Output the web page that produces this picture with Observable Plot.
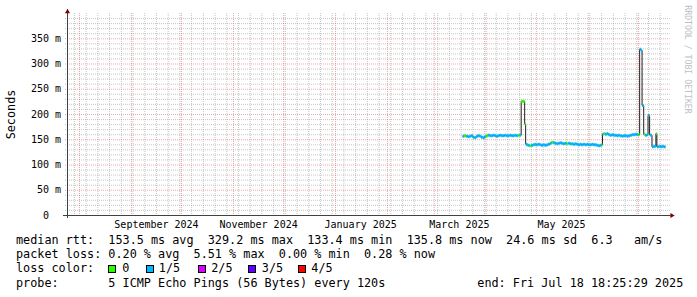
<!DOCTYPE html>
<html><head><meta charset="utf-8">
<script src="https://cdn.jsdelivr.net/npm/d3@7"></script>
<script src="https://cdn.jsdelivr.net/npm/@observablehq/plot@0.6"></script>
<style>
html,body{margin:0;padding:0;background:#fff;}
#wrap{position:relative;width:697px;height:297px;background:#fff;overflow:hidden;font-family:"DejaVu Sans Mono",monospace;color:#000;}
#chart{position:absolute;left:0;top:0;}
.ln{position:absolute;left:16px;font-size:11.8px;line-height:14px;white-space:pre;}
.box{position:absolute;width:8px;height:8px;box-sizing:border-box;border:1px solid #000;}
</style>
</head><body>
<div id="wrap"><div id="chart"></div></div>
<script>
// ---- data ----
const dates = [
"2025-03-18","2025-03-19","2025-03-20","2025-03-21","2025-03-22","2025-03-23","2025-03-24","2025-03-25",
"2025-03-26","2025-03-27","2025-03-28","2025-03-29","2025-03-30","2025-03-31","2025-04-01","2025-04-02",
"2025-04-03","2025-04-04","2025-04-05","2025-04-06","2025-04-07","2025-04-08","2025-04-09","2025-04-10",
"2025-04-11","2025-04-12","2025-04-13","2025-04-14","2025-04-15","2025-04-16","2025-04-17","2025-04-18",
"2025-04-19","2025-04-20","2025-04-21","2025-04-21T22:00","2025-04-24T00:00","2025-04-24T14:00",
"2025-04-25","2025-04-26","2025-04-27","2025-04-28","2025-04-29","2025-04-30","2025-05-01","2025-05-02",
"2025-05-03","2025-05-04","2025-05-05","2025-05-06","2025-05-07","2025-05-08","2025-05-09","2025-05-10",
"2025-05-11","2025-05-12","2025-05-13","2025-05-14","2025-05-15","2025-05-16","2025-05-17","2025-05-18",
"2025-05-19","2025-05-20","2025-05-21","2025-05-22","2025-05-23","2025-05-24","2025-05-25","2025-05-26",
"2025-05-27","2025-05-28","2025-05-29","2025-05-30","2025-05-31","2025-06-01","2025-06-02","2025-06-03",
"2025-06-04","2025-06-05","2025-06-06","2025-06-07","2025-06-08","2025-06-09","2025-06-09T12:00",
"2025-06-10","2025-06-11","2025-06-12","2025-06-13","2025-06-14","2025-06-15","2025-06-16","2025-06-17",
"2025-06-18","2025-06-19","2025-06-20","2025-06-21","2025-06-22","2025-06-23","2025-06-24","2025-06-25",
"2025-06-26","2025-06-27","2025-06-28","2025-06-29","2025-06-30","2025-07-01","2025-07-01T17:00",
"2025-07-02T12:00","2025-07-03T04:00","2025-07-04T03:00","2025-07-05","2025-07-06","2025-07-06T17:00",
"2025-07-07T16:00","2025-07-08","2025-07-09T02:00","2025-07-10","2025-07-11T10:00","2025-07-12",
"2025-07-13","2025-07-14","2025-07-15","2025-07-16","2025-07-17T02:00"
];
const medianMs = [
157,158,157,156,157,158,155,154,
157,158,157,155,154,156,158,159,
158,158,159,158,157,158,159,158,
158,159,158,158,159,158,158,159,
158,159,159,226,181,142,
140,139,138,139,140,141,140,141,
140,139,140,139,140,141,143,145,
144,143,142,143,144,143,142,143,
142,143,142,142,141,142,141,140,
141,140,141,140,141,140,140,141,
140,140,139,138,139,140,161,
162,161,162,160,159,160,159,159,
158,159,158,157,158,158,157,158,
159,160,160,161,160,160,329,
327,218,161,159,160,198,
160,159,136,137,162,136,
137,136,137,136,136
];
// packet-loss bucket of each sample: 0 = none, 1 = 1/5
const lossIdx = [
1,0,1,1,1,1,1,1,
1,1,1,1,1,1,0,1,
1,1,1,1,1,1,1,1,
1,1,1,1,1,1,1,1,
1,0,1,0,0,1,
1,1,0,1,1,1,1,1,
1,1,1,1,1,1,1,0,
1,1,1,1,1,1,1,1,
0,1,1,1,1,1,1,1,
1,1,1,1,1,1,1,1,
1,1,1,1,1,0,1,
0,1,1,1,1,1,1,1,
1,1,1,1,1,1,1,1,
1,1,1,1,1,0,1,
1,1,0,1,1,1,
1,1,1,1,0,1,
1,1,1,1,1
];
const lossLabels = ["0","1/5","2/5","3/5","4/5"];
const lossColors = ["#26ff00","#00b8ff","#dd00ff","#5e00ff","#ff0000"];

const yTicks = [0,50,100,150,200,250,300,350];
const yTickLabels = ["0\u00a0\u00a0","50 m","100 m","150 m","200 m","250 m","300 m","350 m"];
const xLabels = ["September 2024","November 2024","January 2025","March 2025","May 2025"];
const xLabelDates = ["2024-09-16","2024-11-16","2025-01-16","2025-03-16","2025-05-16"];

const statLines = [
"median rtt:  153.5 ms avg  329.2 ms max  133.4 ms min  135.8 ms now  24.6 ms sd  6.3   am/s",
"packet loss: 0.20 % avg  5.51 % max  0.00 % min  0.28 % now"
];
const probeText = "probe:       5 ICMP Echo Pings (56 Bytes) every 120s";
const endText = "end: Fri Jul 18 18:25:29 2025";

// ---- chart ----
const x0 = new Date("2024-07-24T20:00Z"), x1 = new Date("2025-07-18T18:25Z");
const toUTC = s => new Date(s.length === 10 ? s + "T00:00Z" : s + "Z");
const rows = dates.map((d, i) => ({
  t: toUTC(d), v: medianMs[i], c: lossColors[lossIdx[i]],
  t2: i + 1 < dates.length ? toUTC(dates[i + 1]) : toUTC(d)
}));
const minorY = d3.range(10, 400, 10).filter(v => v % 50 !== 0);
const majorY = yTicks.filter(v => v > 0);
const weeks = d3.utcMonday.range(x0, x1);
const months = d3.utcMonth.range(x0, x1);

const arrow = {draw(ctx){ctx.moveTo(0,-2.5);ctx.lineTo(2.6,1.8);ctx.lineTo(-2.6,1.8);ctx.closePath();}};
const gridGray = {stroke:"#909090", strokeOpacity:0.5, strokeDasharray:"1,1"};
const gridRed = {stroke:"#e05050", strokeOpacity:0.5, strokeDasharray:"1,1"};

const svg = Plot.plot({
  width: 697, height: 232,
  marginLeft: 67, marginRight: 29.3, marginTop: 13, marginBottom: 17,
  style: {fontFamily: "DejaVu Sans Mono", fontSize: "10px", background: "#fff", overflow: "visible", color: "#000"},
  x: {type: "utc", domain: [x0, x1], axis: null},
  y: {domain: [0, 400], axis: null},
  color: {type: "identity"},
  marks: [
    Plot.ruleY(minorY, {...gridGray, insetLeft: -2, insetRight: -2}),
    Plot.ruleX(weeks, {...gridGray, insetBottom: -2}),
    Plot.ruleY(majorY, {...gridRed, insetLeft: -2, insetRight: -2}),
    Plot.ruleX(months, {...gridRed, insetBottom: -2}),
    Plot.ruleY([0], {stroke: "#404040", insetLeft: -4, insetRight: -3}),
    Plot.ruleX([x0], {stroke: "#404040", insetTop: -4, insetBottom: -3}),
    Plot.dot([{x: x0, y: 400}], {x: "x", y: "y", symbol: arrow, r: 3, fill: "#800000", stroke: "none", dy: -2}),
    Plot.dot([{x: x1, y: 0}], {x: "x", y: "y", symbol: arrow, r: 3, fill: "#800000", stroke: "none", rotate: 90, dx: 4}),
    Plot.line(rows, {x: "t", y: "v", curve: "step-after", stroke: "#202020", strokeWidth: 1}),
    Plot.link(rows.slice(0, -1), {x1: "t", x2: "t2", y1: "v", y2: "v", stroke: "c", strokeWidth: 3}),
    Plot.text(yTicks, {y: d => d, text: (d, i) => yTickLabels[i], frameAnchor: "left", textAnchor: "end", lineAnchor: "middle", dx: -6.5, fontSize: 10, fill: "#000"}),
    Plot.text(xLabelDates, {x: d => toUTC(d), text: (d, i) => xLabels[i], frameAnchor: "bottom", textAnchor: "middle", lineAnchor: "middle", dy: 9.5, fontSize: 10, fill: "#000"}),
    Plot.text(["Seconds"], {frameAnchor: "left", textAnchor: "middle", lineAnchor: "middle", rotate: -90, dx: -56, fontSize: 11.8, fill: "#000"}),
    Plot.text(["RRDTOOL / TOBI OETIKER"], {frameAnchor: "top-right", textAnchor: "middle", lineAnchor: "middle", rotate: 90, dx: 19.5, dy: 46, fontSize: 8.2, fill: "#c0c0c0"})
  ]
});
document.getElementById("chart").appendChild(svg);

// ---- text block below the chart ----
const wrap = document.getElementById("wrap");
function addLine(text, top, left) {
  const d = document.createElement("div");
  d.className = "ln"; d.textContent = text; d.style.top = top + "px";
  if (left != null) d.style.left = left + "px";
  wrap.appendChild(d);
}
addLine(statLines[0], 233.4);
addLine(statLines[1], 247.4);
addLine("loss color:", 261.4);
const boxLeft = [108, 145.5, 197.5, 248, 297.5];
const labLeft = [122.3, 158.8, 211.2, 261.8, 311.3];
lossLabels.forEach((lab, i) => {
  const b = document.createElement("div");
  b.className = "box"; b.style.left = boxLeft[i] + "px"; b.style.top = "265px"; b.style.background = lossColors[i];
  wrap.appendChild(b);
  addLine(lab, 261.4, labLeft[i]);
});
addLine(probeText, 275.9);
addLine(endText, 275.9, 477.3);
</script>
</body></html>
